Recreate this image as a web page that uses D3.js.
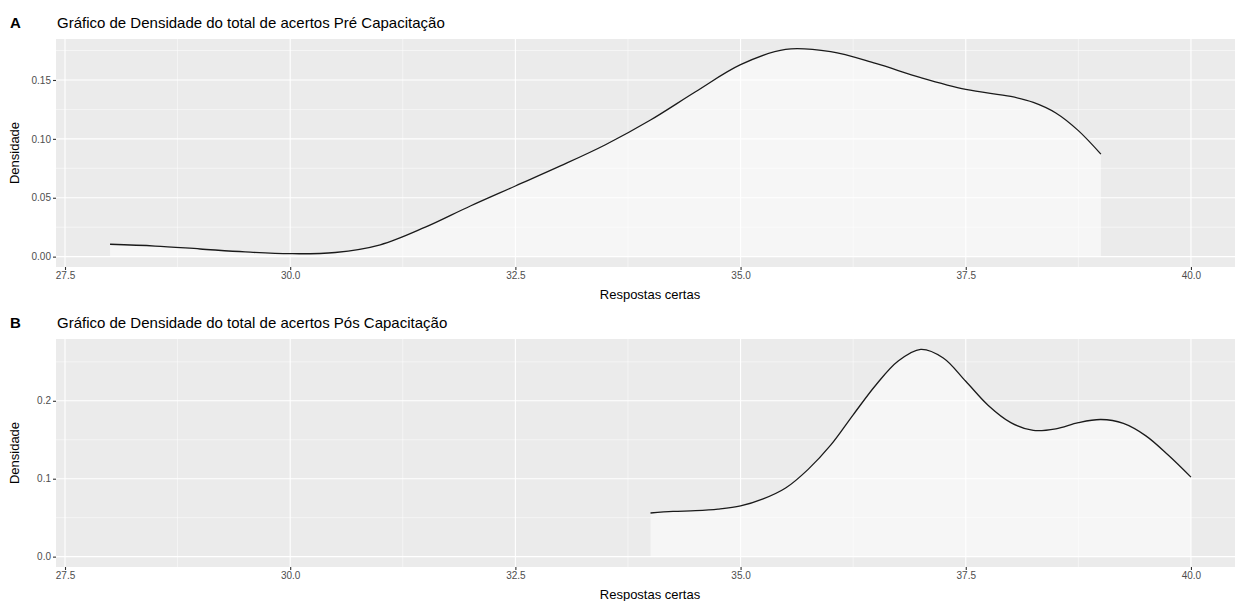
<!DOCTYPE html>
<html>
<head>
<meta charset="utf-8">
<script src="https://cdn.jsdelivr.net/npm/d3@7"></script>
<style>
  body { margin: 0; background: #fff; }
  svg { font-family: "Liberation Sans", Arial, sans-serif; display: block; }
  .grid-major { stroke: #fff; stroke-width: 1.1; }
  .grid-minor { stroke: #fff; stroke-width: 0.5; }
  .tick-lab { fill: #4d4d4d; font-size: 10px; }
  .axis-title { fill: #000; font-size: 13px; }
</style>
</head>
<body>
<svg id="plot" width="1235" height="601"></svg>
<script>
// x ticks shared by both panels
var xTicks = [27.5, 30.0, 32.5, 35.0, 37.5, 40.0];
var xMinor = [28.75, 31.25, 33.75, 36.25, 38.75];

// panel A: density before training
var preX = [28.0, 28.5, 29.0, 29.5, 30.0, 30.5, 31.0, 31.5, 32.0, 32.5, 33.0, 33.5,
            34.0, 34.5, 35.0, 35.5, 36.0, 36.5, 37.0, 37.5, 38.0, 38.25, 38.5, 38.75, 39.0];
var preY = [0.0105, 0.0090, 0.0065, 0.0040, 0.0025, 0.0035, 0.0100, 0.0250, 0.043, 0.060, 0.077, 0.095,
            0.116, 0.140, 0.163, 0.176, 0.174, 0.164, 0.152, 0.142, 0.136, 0.131, 0.122, 0.107, 0.087];
var preTicks = [0.00, 0.05, 0.10, 0.15];
var preMinor = [0.025, 0.075, 0.125, 0.175];

// panel B: density after training
var posX = [34.0, 34.25, 34.5, 34.75, 35.0, 35.25, 35.5, 35.75, 36.0, 36.25, 36.5, 36.75, 37.0,
            37.25, 37.5, 37.75, 38.0, 38.25, 38.5, 38.75, 39.0, 39.25, 39.5, 39.75, 40.0];
var posY = [0.056, 0.058, 0.059, 0.061, 0.065, 0.074, 0.088, 0.112, 0.143, 0.182, 0.220, 0.251, 0.266,
            0.255, 0.225, 0.194, 0.172, 0.162, 0.164, 0.172, 0.176, 0.171, 0.155, 0.130, 0.102];
var posTicks = [0.0, 0.1, 0.2];
var posMinor = [0.05, 0.15, 0.25];

var panels = [
    {tag: 'A', title: 'Gráfico de Densidade do total de acertos Pré Capacitação',
     xs: preX, ys: preY, ticks: preTicks, minor: preMinor, fmt: '.2f', top: 0},
    {tag: 'B', title: 'Gráfico de Densidade do total de acertos Pós Capacitação',
     xs: posX, ys: posY, ticks: posTicks, minor: posMinor, fmt: '.1f', top: 300}
];

var svg = d3.select('#plot');

var x = d3.scaleLinear().domain([27.4, 40.6]).range([56, 1245]);

panels.forEach(function(p) {
    var g = svg.append('g').attr('transform', 'translate(0,' + p.top + ')');
    var ymax = d3.max(p.ys);
    var y = d3.scaleLinear().domain([-0.05 * ymax, 1.05 * ymax]).range([267, 39]);
    var data = p.xs.map(function(v, i) { return {x: v, y: p.ys[i]}; });

    g.append('defs').append('clipPath').attr('id', 'clip' + p.tag)
        .append('rect').attr('x', 56).attr('y', 39).attr('width', 1189).attr('height', 228);

    g.append('rect').attr('x', 56).attr('y', 39).attr('width', 1189).attr('height', 228)
        .attr('fill', '#ebebeb');

    var grid = g.append('g').attr('clip-path', 'url(#clip' + p.tag + ')');
    grid.selectAll('.gxm').data(xMinor).enter().append('line')
        .attr('class', 'grid-minor')
        .attr('x1', x).attr('x2', x).attr('y1', 39).attr('y2', 267);
    grid.selectAll('.gym').data(p.minor).enter().append('line')
        .attr('class', 'grid-minor')
        .attr('x1', 56).attr('x2', 1245).attr('y1', y).attr('y2', y);
    grid.selectAll('.gx').data(xTicks).enter().append('line')
        .attr('class', 'grid-major')
        .attr('x1', x).attr('x2', x).attr('y1', 39).attr('y2', 267);
    grid.selectAll('.gy').data(p.ticks).enter().append('line')
        .attr('class', 'grid-major')
        .attr('x1', 56).attr('x2', 1245).attr('y1', y).attr('y2', y);

    var area = d3.area()
        .x(function(d) { return x(d.x); })
        .y0(y(0))
        .y1(function(d) { return y(d.y); })
        .curve(d3.curveCatmullRom.alpha(0.5));
    var line = d3.line()
        .x(function(d) { return x(d.x); })
        .y(function(d) { return y(d.y); })
        .curve(d3.curveCatmullRom.alpha(0.5));

    g.append('path').datum(data).attr('d', area)
        .attr('fill', '#ffffff').attr('fill-opacity', 0.55);
    g.append('path').datum(data).attr('d', line)
        .attr('fill', 'none').attr('stroke', '#1a1a1a').attr('stroke-width', 1.3);

    // y axis
    var ya = g.append('g').attr('transform', 'translate(56,0)')
        .call(d3.axisLeft(y).tickValues(p.ticks).tickFormat(d3.format(p.fmt)).tickSize(3).tickPadding(2));
    ya.select('.domain').remove();
    ya.selectAll('line').attr('stroke', '#333').attr('stroke-width', 1.1);
    ya.selectAll('text').attr('class', 'tick-lab').attr('font-family', null).attr('font-size', null);

    // x axis
    var xa = g.append('g').attr('transform', 'translate(0,267)')
        .call(d3.axisBottom(x).tickValues(xTicks).tickFormat(d3.format('.1f')).tickSize(3).tickPadding(2));
    xa.select('.domain').remove();
    xa.selectAll('line').attr('stroke', '#333').attr('stroke-width', 1.1);
    xa.selectAll('text').attr('class', 'tick-lab').attr('font-family', null).attr('font-size', null);

    g.append('text').attr('class', 'axis-title')
        .attr('x', 650).attr('y', 299).attr('text-anchor', 'middle')
        .text('Respostas certas');
    g.append('text').attr('class', 'axis-title')
        .attr('transform', 'translate(19,153) rotate(-90)').attr('text-anchor', 'middle')
        .text('Densidade');

    g.append('text').attr('x', 10).attr('y', 28)
        .attr('font-size', '15px').attr('font-weight', 'bold').text(p.tag);
    g.append('text').attr('x', 57).attr('y', 28)
        .attr('font-size', '15px').attr('fill', '#000').text(p.title);
});
</script>
</body>
</html>
